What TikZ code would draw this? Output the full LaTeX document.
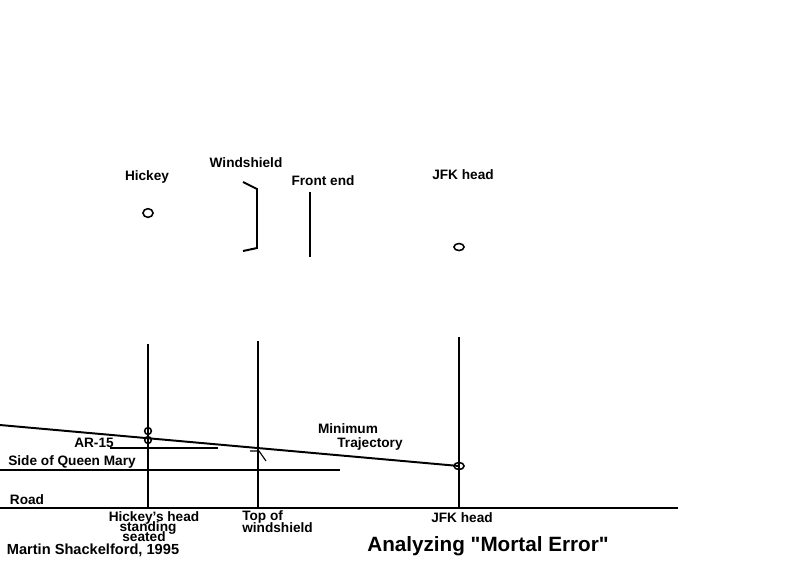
\documentclass[tikz,border=0pt]{standalone}
\usepackage{fontspec}
\setmainfont{Liberation Sans}

\begin{document}
\begin{tikzpicture}[x=0.025cm,y=-0.025cm,
		heavy/.style={line width=1.4pt},
		light/.style={line width=0.8pt},
		mark ring/.style={line width=1.1pt},
		lbl/.style={inner sep=0pt, font=\bfseries\fontsize{9.7}{10}\selectfont}]
		\useasboundingbox (0,0) rectangle (800,562);

		% top view
		\coordinate (hk up) at (148,213);
		\coordinate (ws a) at (243,182);
		\coordinate (ws b) at (257,189);
		\coordinate (ws c) at (257,248);
		\coordinate (ws d) at (243,251);
		\coordinate (fe top) at (310,192);
		\coordinate (fe bot) at (310,257);
		\coordinate (jfk up) at (459,247);

		\node[lbl] (hickey) at (147,177) {Hickey};
		\node[lbl] (windshield) at (246,163) {Windshield};
		\node[lbl] (front end) at (323,181) {Front end};
		\node[lbl] (jfk top) at (463,175) {JFK head};

		\draw[mark ring] (hk up) ellipse [x radius=3.6pt, y radius=3.1pt];
		\draw[heavy] (ws a) -- (ws b) -- (ws c) -- (ws d);
		\draw[heavy] (fe top) -- (fe bot);
		\draw[mark ring] (jfk up) ellipse [x radius=3.6pt, y radius=2.5pt];

		% side view
		\coordinate (road l) at (0,508);
		\coordinate (road r) at (678,508);
		\coordinate (qm l) at (0,470);
		\coordinate (qm r) at (340,470);
		\coordinate (ar l) at (110,448);
		\coordinate (ar r) at (218,448);
		\coordinate (hk top) at (148,344);
		\coordinate (hk bot) at (148,508);
		\coordinate (ws top) at (258,341);
		\coordinate (ws bot) at (258,508);
		\coordinate (jfk top l) at (459,337);
		\coordinate (jfk bot) at (459,508);
		\coordinate (traj l) at (0,425);
		\coordinate (jfk hit) at (459,466);
		\coordinate (hk stand) at (148,431);
		\coordinate (hk seat) at (148,440);
		\coordinate (tick a) at (250,451);
		\coordinate (tick b) at (259,451);
		\coordinate (tick c) at (266,461);

		\draw[heavy] (road l) -- (road r);
		\draw[heavy] (qm l) -- (qm r);
		\draw[light] (ar l) -- (ar r);
		\draw[heavy] (hk top) -- (hk bot);
		\draw[heavy] (ws top) -- (ws bot);
		\draw[heavy] (jfk top l) -- (jfk bot);
		\draw[heavy] (traj l) -- (jfk hit);
		\draw[light] (tick a) -- (tick b) -- (tick c);

		\draw[mark ring] (hk stand) circle [radius=2.4pt];
		\draw[mark ring] (hk seat) circle [radius=2.4pt];
		\draw[mark ring] (jfk hit) ellipse [x radius=3.6pt, y radius=2.5pt];

		\node[lbl] (minimum) at (348,429) {Minimum};
		\node[lbl] (trajectory) at (370,444) {Trajectory};
		\node[lbl] (ar15) at (94,443) {AR-15};
		\node[lbl] (queen mary) at (72,462) {Side of Queen Mary};
		\node[lbl] (road) at (27,500) {Road};

		\node[lbl] (hk head) at (154,518) {Hickey's head};
		\node[lbl] (standing) at (148,528) {standing};
		\node[lbl] (seated) at (144,537) {seated};
		\node[lbl, anchor=west] (top of) at (242,517) {Top of};
		\node[lbl, anchor=west] (top ws) at (242,528) {windshield};
		\node[lbl] (jfk low) at (462,518) {JFK head};

		\node[lbl, font=\bfseries\fontsize{10.4}{11}\selectfont] (author) at (93,550) {Martin Shackelford, 1995};
		\node[lbl, font=\bfseries\fontsize{14.7}{16}\selectfont] (title) at (488,546) {Analyzing \textquotedbl Mortal Error\textquotedbl};
	\end{tikzpicture}
\end{document}
